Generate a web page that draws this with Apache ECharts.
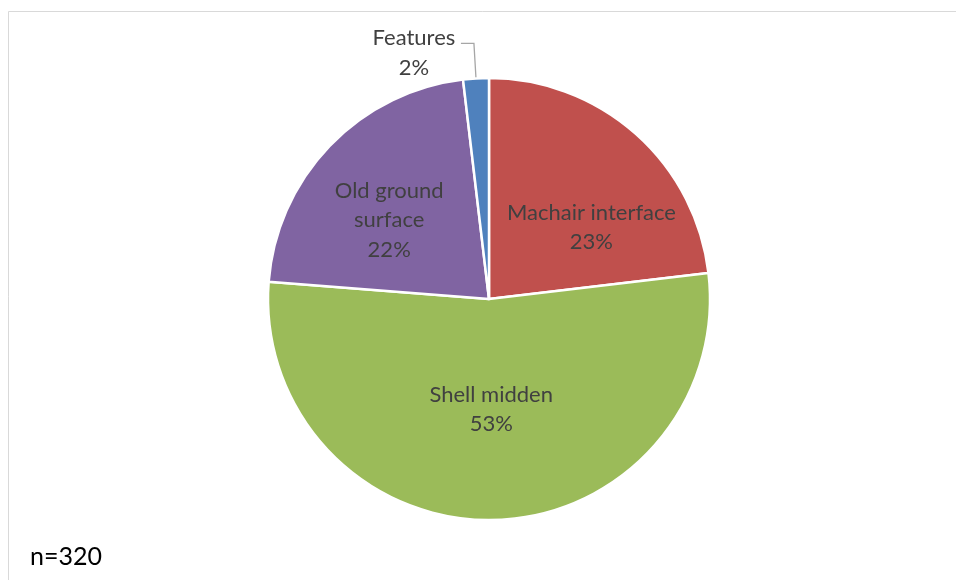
<!DOCTYPE html>
<html>
<head>
<meta charset="utf-8">
<script src="https://cdn.jsdelivr.net/npm/echarts@6/dist/echarts.min.js"></script>
<style>
html,body{margin:0;padding:0;background:#fff;}
#chart{width:956px;height:580px;}
</style>
</head>
<body>
<div id="chart"></div>
<script>
const categories = ['Machair interface', 'Shell midden', 'Old ground surface', 'Features'];
const counts = [74, 170, 70, 6];
const percentLabels = ['23%', '53%', '22%', '2%'];
const nLabel = 'n=320';

const colors = ['#C0504D', '#9BBB59', '#8064A2', '#4F81BD'];
const displayNames = ['Machair interface', 'Shell midden', 'Old ground\nsurface', 'Features'];
const labelOffsets = [[27, 13], [0, -3], [-18, 0], [0, 0]];

const FONT = 'Lato';
const data = categories.map((c, i) => {
  const item = {
    name: c,
    value: counts[i],
    itemStyle: { color: colors[i] }
  };
  if (c === 'Features') {
    item.label = {
      position: 'outside',
      formatter: '{a|' + displayNames[i] + '}\n{a|' + percentLabels[i] + '}',
      padding: [18, 0, 0, 0],
      rich: { a: { width: 84, align: 'center', fontSize: 22, lineHeight: 30, color: '#404040', fontFamily: FONT } }
    };
    item.labelLine = { show: true, length: 35, length2: 13, lineStyle: { color: '#A6A6A6', width: 1.3 } };
  } else {
    item.label = {
      position: 'inside',
      offset: labelOffsets[i],
      formatter: displayNames[i] + '\n' + percentLabels[i]
    };
    item.labelLine = { show: false };
  }
  return item;
});

const chart = echarts.init(document.getElementById('chart'), null, { renderer: 'canvas' });
chart.setOption({
  backgroundColor: '#fff',
  animation: false,
  graphic: [
    { type: 'rect', shape: { x: 8.5, y: 11.5, width: 960, height: 600 }, style: { fill: 'none', stroke: '#D9D9D9', lineWidth: 1 }, silent: true },
    { type: 'text', left: 30, top: 544, style: { text: nLabel, font: '25px ' + FONT, fill: '#000' } }
  ],
  series: [{
    type: 'pie',
    center: [489, 299],
    radius: [0, 221],
    startAngle: 90,
    clockwise: true,
    avoidLabelOverlap: false,
    itemStyle: { borderColor: '#fff', borderWidth: 2.5 },
    label: { color: '#404040', fontSize: 22, lineHeight: 29.5, fontFamily: FONT, align: 'center' },
    emphasis: { disabled: true },
    data: data
  }]
});
</script>
</body>
</html>
